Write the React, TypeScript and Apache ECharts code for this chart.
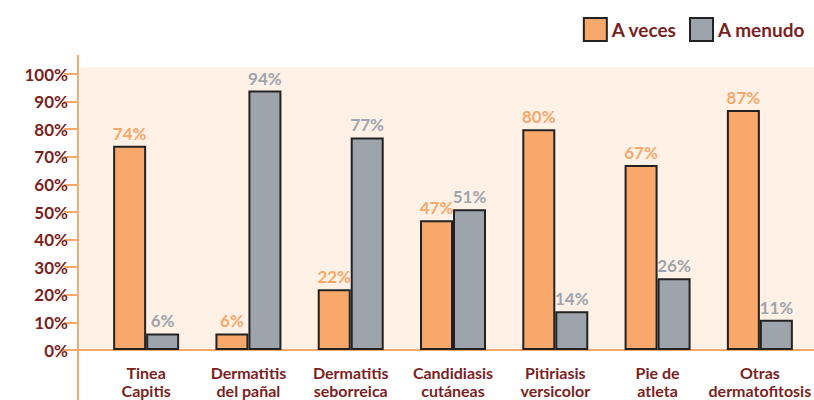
import React, { useEffect, useRef } from "react";
import * as echarts from "echarts";

const categories = [
  "Tinea\nCapitis",
  "Dermatitis\ndel pañal",
  "Dermatitis\nseborreica",
  "Candidiasis\ncutáneas",
  "Pitiriasis\nversicolor",
  "Pie de\natleta",
  "Otras\ndermatofitosis",
];
const aVeces = [74, 6, 22, 47, 80, 67, 87];
const aMenudo = [6, 94, 77, 51, 14, 26, 11];
const yTicks = [0, 10, 20, 30, 40, 50, 60, 70, 80, 90, 100];

const ORANGE = "#F7A86A";
const GRAY = "#9EA4AB";
const DARK = "#7A1F22";
const FONT = "Lato, 'Open Sans', sans-serif";

export default function App() {
  const ref = useRef<HTMLDivElement>(null);
  useEffect(() => {
    document.body.style.margin = "0";
    if (!ref.current) return;
    const chart = echarts.init(ref.current, null, { renderer: "svg" });
    chart.setOption({
      animation: false,
      graphic: [
        {
          type: "rect",
          z: -10,
          silent: true,
          shape: { x: 80, y: 67, width: 734, height: 283 },
          style: { fill: "#FFF1E6" },
        },
        {
          type: "line",
          z: -5,
          silent: true,
          shape: { x1: 78, y1: 55, x2: 78, y2: 400 },
          style: { stroke: ORANGE, lineWidth: 2 },
        },
        {
          type: "line",
          z: -5,
          silent: true,
          shape: { x1: 62, y1: 350, x2: 814, y2: 350 },
          style: { stroke: ORANGE, lineWidth: 2 },
        },
      ],
      legend: {
        right: 4,
        top: 12,
        itemWidth: 23,
        itemHeight: 23,
        itemGap: 12,
        icon: "rect",
        textStyle: { color: DARK, fontWeight: "bold", fontSize: 19, fontFamily: FONT },
        data: ["A veces", "A menudo"],
      },
      grid: {
        left: 95,
        right: 0,
        top: 74,
        bottom: 50,
        show: false,
      },
      xAxis: {
        type: "category",
        data: categories,
        axisLine: { lineStyle: { color: ORANGE, width: 2 } },
        axisTick: { show: false },
        axisLabel: {
          color: DARK,
          fontWeight: "bold",
          fontSize: 16,
          fontFamily: FONT,
          lineHeight: 18,
          margin: 13,
          interval: 0,
        },
      },
      yAxis: {
        type: "value",
        min: 0,
        max: 100,
        interval: 10,
        offset: 17,
        axisLine: { show: true, lineStyle: { color: ORANGE, width: 2 } },
        axisTick: { show: true, length: 14, lineStyle: { color: ORANGE, width: 2 } },
        splitLine: { show: false },
        axisLabel: {
          color: DARK,
          fontWeight: "bold",
          fontSize: 17,
          fontFamily: FONT,
          margin: 10,
          formatter: (v: number) => (yTicks.includes(v) ? v + "%" : ""),
        },
      },
      series: [
        {
          name: "A veces",
          type: "bar",
          data: aVeces,
          barWidth: 33,
          barGap: "0%",
          itemStyle: { color: ORANGE, borderColor: "#222", borderWidth: 2 },
          label: {
            show: true,
            position: "top",
            distance: 4,
            formatter: "{c}%",
            color: ORANGE,
            fontWeight: "bold",
            fontSize: 17,
            fontFamily: FONT,
          },
        },
        {
          name: "A menudo",
          type: "bar",
          data: aMenudo,
          barWidth: 33,
          itemStyle: { color: GRAY, borderColor: "#222", borderWidth: 2 },
          label: {
            show: true,
            position: "top",
            distance: 4,
            formatter: "{c}%",
            color: GRAY,
            fontWeight: "bold",
            fontSize: 17,
            fontFamily: FONT,
          },
        },
      ],
    });
    return () => chart.dispose();
  }, []);
  return <div ref={ref} style={{ width: 814, height: 400 }} />;
}
